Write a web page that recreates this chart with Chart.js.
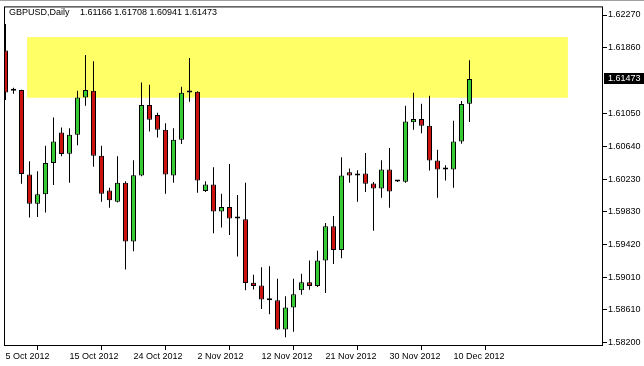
<!DOCTYPE html>
<html>
<head>
<meta charset="utf-8">
<title>GBPUSD Daily</title>
<script src="https://cdn.jsdelivr.net/npm/chart.js@4.4.0/dist/chart.umd.min.js"></script>
<style>
  html, body { margin: 0; padding: 0; background: #fff; }
  #wrap { width: 644px; height: 366px; }
</style>
</head>
<body>
<div id="wrap"><canvas id="chart" width="644" height="366"></canvas></div>
<script>
const symbol = 'GBPUSD,Daily';

const dates = [
    '5 Oct 2012', '7 Oct 2012', '8 Oct 2012', '9 Oct 2012', '10 Oct 2012', '11 Oct 2012', '12 Oct 2012', '14 Oct 2012',
    '15 Oct 2012', '16 Oct 2012', '17 Oct 2012', '18 Oct 2012', '19 Oct 2012', '21 Oct 2012', '22 Oct 2012', '23 Oct 2012',
    '24 Oct 2012', '25 Oct 2012', '26 Oct 2012', '28 Oct 2012', '29 Oct 2012', '30 Oct 2012', '31 Oct 2012', '1 Nov 2012',
    '2 Nov 2012', '4 Nov 2012', '5 Nov 2012', '6 Nov 2012', '7 Nov 2012', '8 Nov 2012', '9 Nov 2012', '11 Nov 2012',
    '12 Nov 2012', '13 Nov 2012', '14 Nov 2012', '15 Nov 2012', '16 Nov 2012', '18 Nov 2012', '19 Nov 2012', '20 Nov 2012',
    '21 Nov 2012', '22 Nov 2012', '23 Nov 2012', '25 Nov 2012', '26 Nov 2012', '27 Nov 2012', '28 Nov 2012', '29 Nov 2012',
    '30 Nov 2012', '2 Dec 2012', '3 Dec 2012', '4 Dec 2012', '5 Dec 2012', '6 Dec 2012', '7 Dec 2012', '9 Dec 2012',
    '10 Dec 2012', '11 Dec 2012', '12 Dec 2012'
];

const opens = [
    1.61830, 1.61328, 1.61336, 1.60287, 1.59924, 1.60040, 1.60430, 1.60809, 1.60544, 1.60781,
    1.61245, 1.61328, 1.60521, 1.60089, 1.59948, 1.60183, 1.59454, 1.60274, 1.61151, 1.61028,
    1.60842, 1.60274, 1.60719, 1.61307, 1.61315, 1.60081, 1.60163, 1.59825, 1.59883, 1.59738,
    1.59731, 1.58941, 1.58907, 1.58722, 1.58722, 1.58360, 1.58632, 1.58846, 1.58948, 1.58899,
    1.59216, 1.59642, 1.59348, 1.60315, 1.60274, 1.60299, 1.60176, 1.60111, 1.60349, 1.60200,
    1.60195, 1.60936, 1.60978, 1.60892, 1.60460, 1.60349, 1.60349, 1.60698, 1.61166
];
const highs = [
    1.62159, 1.61365, 1.61340, 1.60451, 1.60328, 1.60645, 1.60994, 1.60871, 1.60862, 1.61328,
    1.61772, 1.61695, 1.60645, 1.60121, 1.60513, 1.60204, 1.60463, 1.61430, 1.61402, 1.61056,
    1.60924, 1.60862, 1.61377, 1.61735, 1.61322, 1.60204, 1.60377, 1.60047, 1.60418, 1.60031,
    1.60183, 1.59040, 1.59133, 1.59146, 1.58990, 1.58772, 1.58990, 1.59052, 1.59216, 1.59340,
    1.59685, 1.59772, 1.60500, 1.60361, 1.60340, 1.60554, 1.60192, 1.60463, 1.60615, 1.60208,
    1.61142, 1.61303, 1.61167, 1.61266, 1.60595, 1.60402, 1.60954, 1.61201, 1.61708
];
const lows = [
    1.61213, 1.61291, 1.60171, 1.59751, 1.59759, 1.59813, 1.60155, 1.60513, 1.60183, 1.60649,
    1.61142, 1.60383, 1.59948, 1.59874, 1.59939, 1.59105, 1.59331, 1.60266, 1.60821, 1.60747,
    1.60047, 1.60183, 1.60665, 1.61192, 1.60060, 1.60068, 1.59556, 1.59627, 1.59533, 1.59266,
    1.58846, 1.58858, 1.58615, 1.58549, 1.58356, 1.58262, 1.58331, 1.58792, 1.58854, 1.58889,
    1.58812, 1.59175, 1.59245, 1.60183, 1.59948, 1.60068, 1.59587, 1.59998, 1.59874, 1.60193,
    1.60183, 1.60842, 1.60800, 1.60336, 1.59998, 1.60213, 1.60121, 1.60670, 1.60941
];
const closes = [
    1.61307, 1.61328, 1.60294, 1.59924, 1.60040, 1.60430, 1.60698, 1.60541, 1.60781, 1.61245,
    1.61336, 1.60521, 1.60047, 1.59966, 1.60183, 1.59454, 1.60278, 1.61151, 1.60966, 1.60842,
    1.60287, 1.60719, 1.61303, 1.61307, 1.60213, 1.60163, 1.59825, 1.59883, 1.59738, 1.59738,
    1.58936, 1.58899, 1.58731, 1.58722, 1.58360, 1.58632, 1.58796, 1.58948, 1.58899, 1.59216,
    1.59642, 1.59348, 1.60274, 1.60274, 1.60299, 1.60173, 1.60111, 1.60349, 1.60074, 1.60200,
    1.60945, 1.60978, 1.60892, 1.60460, 1.60349, 1.60349, 1.60698, 1.61164, 1.61473
];

const tickDates = ['5 Oct 2012', '15 Oct 2012', '24 Oct 2012', '2 Nov 2012', '12 Nov 2012', '21 Nov 2012', '30 Nov 2012', '10 Dec 2012'];
const priceTicks = [1.62270, 1.61860, 1.61050, 1.60640, 1.60230, 1.59830, 1.59420, 1.59010, 1.58610, 1.58200];

// yellow resistance zone (bar index range, price range)
const zoneBars = [2.7, 70.3];
const zonePrices = [1.61241, 1.61995];

const font = { family: '"Liberation Sans", Arial, sans-serif', size: 9 };
const fontCss = '9px "Liberation Sans", Arial, sans-serif';

const bodyColor = (i) => {
    if (closes[i] > opens[i]) return '#33cc33';
    if (closes[i] < opens[i]) return '#cc1111';
    return '#000';
};

const mtPlugin = {
    id: 'mt',
    beforeDatasetsDraw(chart) {
        const { ctx, scales: { x, y } } = chart;
        const x0 = x.getPixelForValue(zoneBars[0]);
        const x1 = x.getPixelForValue(zoneBars[1]);
        const y0 = y.getPixelForValue(zonePrices[1]);
        const y1 = y.getPixelForValue(zonePrices[0]);
        ctx.save();
        ctx.fillStyle = '#ffff66';
        ctx.fillRect(x0, y0, x1 - x0, y1 - y0);
        ctx.restore();
    },
    afterDraw(chart) {
        const { ctx, chartArea: a, scales: { y } } = chart;
        ctx.save();
        // frame
        ctx.strokeStyle = '#000';
        ctx.lineWidth = 1;
        ctx.strokeRect(a.left + 0.5, a.top + 0.5, a.right - a.left - 1, a.bottom - a.top - 1);
        ctx.fillStyle = '#a0a0a0';
        ctx.fillRect(0, 0, chart.width, 1);

        // header text
        const last = closes.length - 1;
        ctx.fillStyle = '#000';
        ctx.font = fontCss;
        ctx.textBaseline = 'middle';
        ctx.textAlign = 'left';
        ctx.fillText(symbol, 9, 13);
        const ohlc = [opens[last], highs[last], lows[last], closes[last]].map(v => v.toFixed(5)).join(' ');
        ctx.fillText(ohlc, 80, 13);

        // current price box
        const py = Math.round(y.getPixelForValue(closes[last]));
        ctx.fillStyle = '#000';
        ctx.fillRect(a.right + 1, py - 6, chart.width - a.right - 1, 11);
        ctx.fillStyle = '#fff';
        ctx.fillText(closes[last].toFixed(5), a.right + 5, py);
        ctx.restore();
    }
};

const bodies = dates.map((d, i) => ({ x: i, y: [opens[i], closes[i]] }));
const wicks = dates.map((d, i) => ({ x: i, y: [lows[i], highs[i]] }));

new Chart(document.getElementById('chart').getContext('2d'), {
    type: 'bar',
    data: {
        datasets: [{
            label: 'body',
            data: bodies,
            backgroundColor: dates.map((d, i) => bodyColor(i)),
            borderColor: '#000',
            borderWidth: 1,
            borderSkipped: false,
            barThickness: 5,
            minBarLength: 2,
            inflateAmount: 0,
            grouped: false
        }, {
            label: 'wick',
            data: wicks,
            backgroundColor: '#000',
            borderWidth: 0,
            barThickness: 1,
            inflateAmount: 0,
            grouped: false
        }]
    },
    options: {
        responsive: false,
        animation: false,
        devicePixelRatio: 1,
        events: [],
        layout: { padding: { left: 4, top: 4, right: 0, bottom: 0 } },
        plugins: { legend: { display: false }, tooltip: { enabled: false } },
        scales: {
            x: {
                type: 'linear',
                min: -0.1875,
                max: 74.6875,
                offset: false,
                border: { display: false },
                grid: { drawOnChartArea: false, drawTicks: true, tickLength: 4, color: '#000' },
                ticks: {
                    autoSkip: false,
                    maxRotation: 0,
                    align: 'start',
                    padding: 1,
                    color: '#000',
                    font: font,
                    callback: (v) => dates[v]
                },
                afterBuildTicks: (s) => { s.ticks = tickDates.map(d => ({ value: dates.indexOf(d) })); },
                afterFit: (s) => { s.height = 20; }
            },
            y: {
                position: 'right',
                min: 1.58154,
                max: 1.62377,
                border: { display: false },
                grid: { drawOnChartArea: false, drawTicks: true, tickLength: 4, color: '#000' },
                ticks: {
                    padding: 1,
                    color: '#000',
                    font: font,
                    callback: (v) => v.toFixed(5)
                },
                afterBuildTicks: (s) => { s.ticks = priceTicks.map(v => ({ value: v })); },
                afterFit: (s) => { s.width = 41; }
            }
        }
    },
    plugins: [mtPlugin]
});
</script>
</body>
</html>
